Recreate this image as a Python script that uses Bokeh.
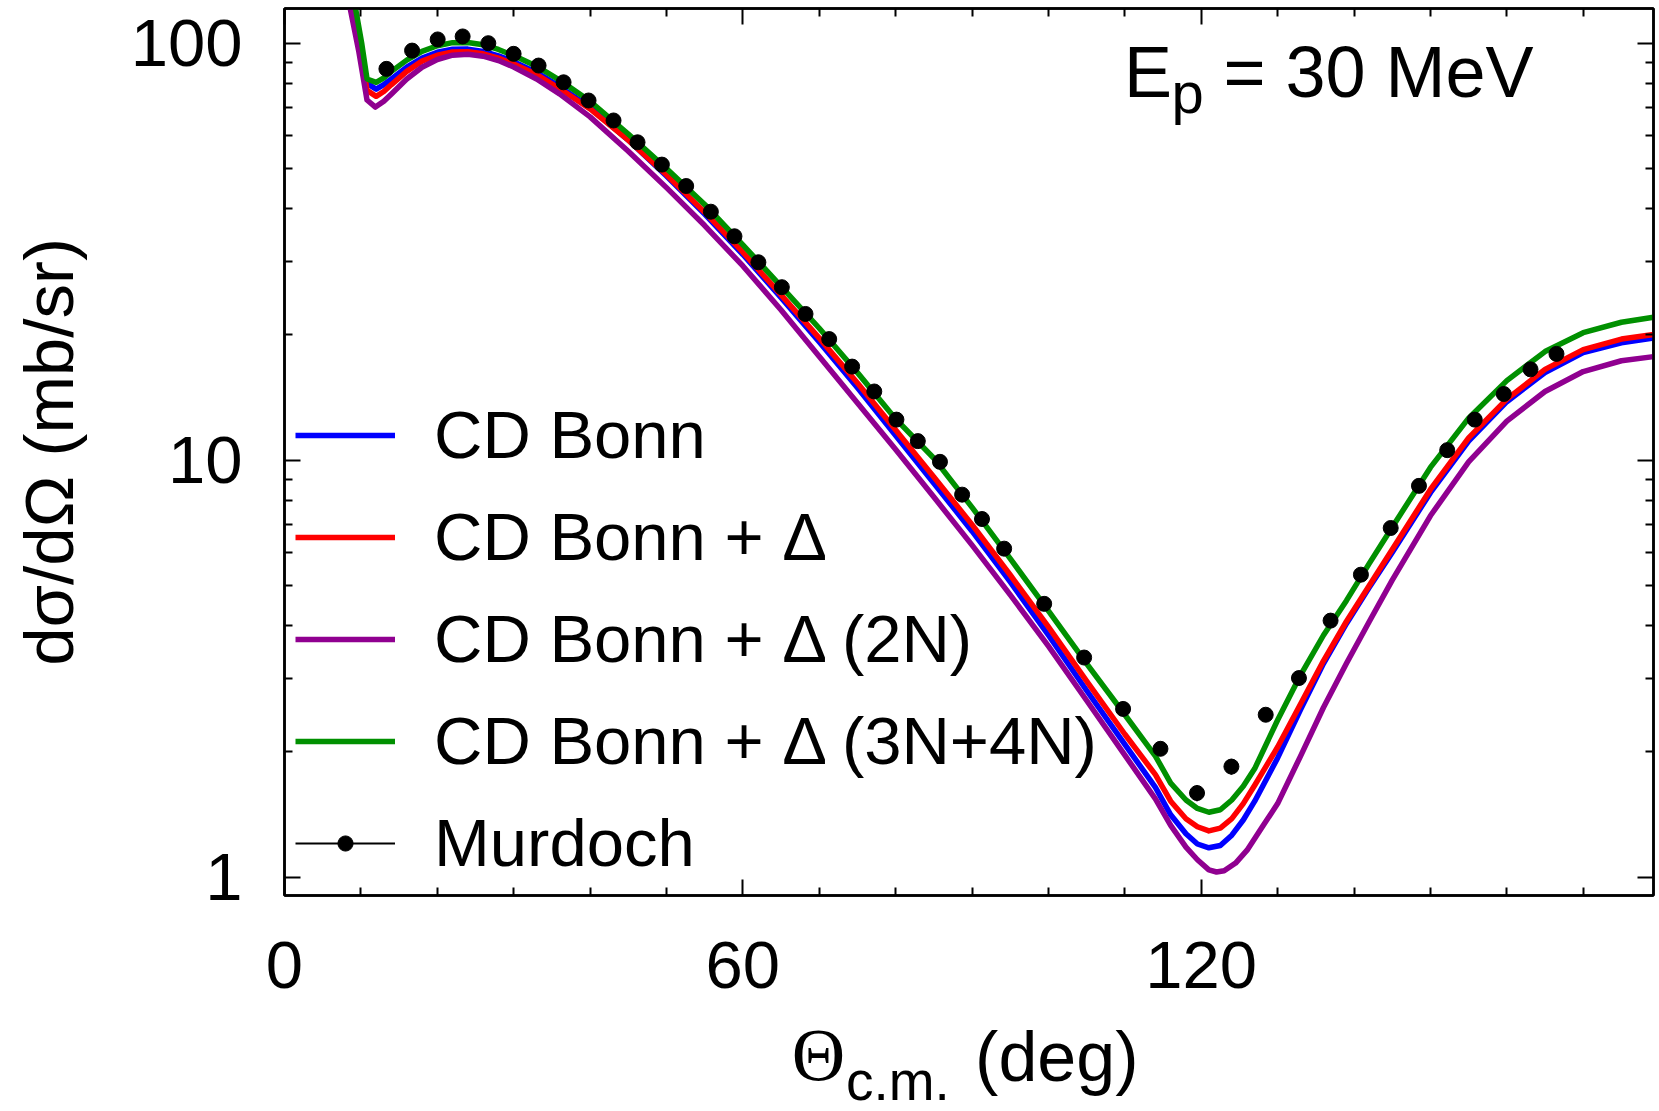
from bokeh.plotting import figure
from bokeh.layouts import column
from bokeh.models import (Range1d, FixedTicker, LinearAxis, LogAxis, Label, Legend,
                          LegendItem, PrintfTickFormatter, CustomLabelingPolicy)
from bokeh.embed import file_html
from bokeh.resources import INLINE

# ---------------- data ----------------
murdoch_theta = [13.34, 16.70, 20.05, 23.32, 26.68, 29.99, 33.26, 36.53, 39.80, 43.07,
                 46.21, 49.40, 52.58, 55.81, 58.90, 62.03, 65.1, 68.2, 71.3, 74.3,
                 77.2, 80.1, 82.9, 85.8, 88.7, 91.3, 94.2, 99.44, 104.67, 109.77,
                 114.66, 119.45, 123.95, 128.44, 132.79, 136.93, 140.9, 144.8, 148.5,
                 152.2, 155.8, 159.6, 163.1, 166.5]
murdoch_xs = [86.7, 95.9, 102.0, 103.7, 99.9, 94.2, 88.3, 80.5, 72.8, 65.2,
              57.8, 51.1, 45.4, 39.4, 34.4, 29.8, 25.97, 22.4, 19.5, 16.75,
              14.6, 12.5, 11.1, 9.90, 8.26, 7.22, 6.13, 4.52, 3.36, 2.53,
              2.03, 1.59, 1.84, 2.45, 3.00, 4.12, 5.31, 6.87, 8.67,
              10.56, 12.5, 14.4, 16.5, 17.97]
murdoch_err = [2.6, 2.9, 3.1, 3.1, 3.0, 2.8, 2.6, 2.4, 2.2, 2.0,
               1.7, 1.5, 1.4, 1.2, 1.0, 0.9, 0.78, 0.67, 0.59, 0.5,
               0.44, 0.38, 0.33, 0.30, 0.25, 0.22, 0.18, 0.14, 0.11, 0.09,
               0.08, 0.07, 0.08, 0.09, 0.1, 0.13, 0.16, 0.21, 0.26,
               0.32, 0.38, 0.43, 0.5, 0.54]

cdb_theta = [8.5, 9.2, 10.0, 10.8, 12.0, 13.0, 14.0, 16.0, 18.0, 20.0, 22.0, 24.0, 26.0,
             28.0, 30.0, 33.0, 36.0, 40.0, 45.0, 50.0, 55.0, 60.0, 65.0, 70.0, 75.0,
             80.0, 85.0, 90.0, 95.0, 100.0, 105.0, 110.0, 114.0, 116.0, 118.0, 119.5,
             121.0, 122.5, 124.0, 125.5, 127.0, 130.0, 133.0, 136.0, 139.0, 142.0,
             145.0, 150.0, 155.0, 160.0, 165.0, 170.0, 175.0, 179.2]
cdb_xs = [152, 121, 97, 80, 77.5, 79.5, 82, 87.5, 92, 95, 96.6, 96.7, 95.5,
          93.2, 90.2, 85, 78.7, 70, 58.5, 48, 38.9, 31.1, 24.5, 19.2, 14.9,
          11.45, 8.8, 6.75, 5.1, 3.8, 2.8, 2.08, 1.64, 1.41, 1.27, 1.2,
          1.175, 1.19, 1.26, 1.37, 1.52, 1.93, 2.52, 3.25, 4.05, 4.95,
          6.0, 8.35, 11.1, 13.8, 16.2, 18.1, 19.1, 19.6]

delta_theta = cdb_theta
delta_xs = [150, 121, 96, 77, 74.5, 76.5, 79.5, 85.5, 90.5, 93.5, 95.2, 95.3, 94.2,
            92, 89, 84, 77.8, 69.5, 58.5, 48.3, 39.3, 31.5, 24.9, 19.6, 15.3,
            11.8, 9.1, 7.0, 5.3, 3.98, 2.95, 2.2, 1.76, 1.52, 1.38, 1.32,
            1.29, 1.31, 1.38, 1.5, 1.66, 2.05, 2.6, 3.3, 4.1, 5.0,
            6.1, 8.5, 11.3, 14.0, 16.5, 18.4, 19.5, 20.0]

d2n_theta = [8.0, 8.6, 9.7, 10.8, 11.9, 13.0, 14.0, 16.0, 18.0, 20.0, 22.0, 24.0, 26.0,
             28.0, 30.0, 33.0, 36.0, 40.0, 45.0, 50.0, 55.0, 60.0, 65.0, 70.0, 75.0,
             80.0, 85.0, 90.0, 95.0, 100.0, 105.0, 110.0, 114.0, 116.0, 118.0, 119.5,
             121.0, 122.0, 123.0, 124.5, 126.0, 128.0, 130.0, 133.0, 136.0, 139.0,
             142.0, 145.0, 150.0, 155.0, 160.0, 165.0, 170.0, 175.0, 179.2]
d2n_xs = [145, 121, 96, 73, 70.2, 72.5, 75.5, 82, 87.5, 91.3, 93.5, 94, 93,
          90.8, 87.6, 82, 75.5, 66.5, 55, 45, 36.5, 29.2, 22.9, 17.7, 13.7,
          10.6, 8.15, 6.25, 4.75, 3.58, 2.65, 1.96, 1.54, 1.33, 1.18, 1.1,
          1.04, 1.028, 1.035, 1.08, 1.16, 1.32, 1.5, 1.95, 2.55, 3.25,
          4.1, 5.15, 7.35, 9.9, 12.4, 14.6, 16.3, 17.3, 17.7]

d34_theta = [8.5, 9.3, 10.1, 10.8, 12.0, 13.0, 14.0, 16.0, 18.0, 20.0, 22.0, 24.0, 26.0,
             28.0, 30.0, 33.0, 36.0, 40.0, 45.0, 50.0, 55.0, 60.0, 65.0, 70.0, 75.0,
             80.0, 85.0, 90.0, 95.0, 100.0, 105.0, 110.0, 114.0, 116.0, 118.0, 119.5,
             121.0, 122.5, 124.0, 125.5, 127.0, 130.0, 133.0, 136.0, 139.0, 142.0,
             145.0, 150.0, 155.0, 160.0, 165.0, 170.0, 175.0, 179.2]
d34_xs = [155, 121, 100, 82, 80.5, 82.5, 85.5, 91, 95.5, 98.5, 100.2, 100.3, 99,
          96.5, 93.3, 88, 81.5, 72.5, 60.5, 50, 41, 32.8, 26.1, 20.7, 16.2,
          12.55, 10.1, 7.7, 5.8, 4.35, 3.25, 2.45, 1.95, 1.68, 1.53, 1.46,
          1.43, 1.45, 1.53, 1.65, 1.82, 2.38, 3.05, 3.8, 4.6, 5.65,
          6.9, 9.6, 12.6, 15.5, 18.2, 20.2, 21.4, 22.0]

series_names = ["CD Bonn", "CD Bonn + \u0394", "CD Bonn + \u0394 (2N)",
                "CD Bonn + \u0394 (3N+4N)"]
series_colors = ["#0000FF", "#FF0000", "#900090", "#009000"]
series_theta = [cdb_theta, delta_theta, d2n_theta, d34_theta]
series_xs = [cdb_xs, delta_xs, d2n_xs, d34_xs]

x_major = [0, 60, 120]
x_minor = [10, 20, 30, 40, 50, 70, 80, 90, 100, 110, 130, 140, 150, 160, 170]
y_major = [1, 10, 100]
y_minor = [2, 3, 4, 5, 6, 7, 8, 9, 20, 30, 40, 50, 60, 70, 80, 90]

FONT = "Liberation Sans"

p = figure(width=1659, height=1010, output_backend="svg", toolbar_location=None,
           x_range=Range1d(0, 179.2), y_range=Range1d(0.903, 121.0),
           y_axis_type="log",
           min_border_left=284, min_border_right=6, min_border_top=8,
           min_border_bottom=115)
p.background_fill_color = "white"
p.border_fill_color = "white"
p.outline_line_color = "black"
p.outline_line_width = 2.5
p.xgrid.visible = False
p.ygrid.visible = False

no_labels = CustomLabelingPolicy(code="return new Set()")


def style_axis(ax, show_labels, standoff=0):
    ax.axis_line_width = 2.5
    ax.axis_line_color = "black"
    ax.major_tick_in = 16
    ax.major_tick_out = 0
    ax.minor_tick_in = 8
    ax.minor_tick_out = 0
    ax.major_tick_line_width = 2
    ax.minor_tick_line_width = 2
    ax.major_tick_line_color = "black"
    ax.minor_tick_line_color = "black"
    if show_labels:
        ax.major_label_text_font = FONT
        ax.major_label_text_font_size = "67px"
        ax.major_label_text_color = "black"
        ax.major_label_standoff = standoff
    else:
        ax.axis_label = None
        ax.major_label_text_font_size = "1px"
        ax.major_label_standoff = 0
        ax.major_label_policy = no_labels


xb = p.xaxis[0]
xb.ticker = FixedTicker(ticks=x_major, minor_ticks=x_minor)
style_axis(xb, True, 46)
xb.axis_label = None

yl = p.yaxis[0]
yl.ticker = FixedTicker(ticks=y_major, minor_ticks=y_minor)
yl.formatter = PrintfTickFormatter(format="%d")
style_axis(yl, True, 42)
yl.axis_label = "d\u03c3/d\u03a9 (mb/sr)"
yl.axis_label_text_font = FONT
yl.axis_label_text_font_size = "69px"
yl.axis_label_text_font_style = "normal"
yl.axis_label_text_color = "black"
yl.axis_label_standoff = 40

xt = LinearAxis(ticker=FixedTicker(ticks=x_major, minor_ticks=x_minor))
style_axis(xt, False)
p.add_layout(xt, "above")
yr = LogAxis(ticker=FixedTicker(ticks=y_major, minor_ticks=y_minor))
style_axis(yr, False)
p.add_layout(yr, "right")

items = []
for name, col, th, xs in zip(series_names, series_colors, series_theta, series_xs):
    r = p.line(th, xs, line_color=col, line_width=5.5, line_join="round")
    items.append(LegendItem(label=name, renderers=[r]))

err_lo = [v - e for v, e in zip(murdoch_xs, murdoch_err)]
err_hi = [v + e for v, e in zip(murdoch_xs, murdoch_err)]
bars = p.segment(x0=murdoch_theta, y0=err_lo, x1=murdoch_theta, y1=err_hi,
                 line_color="black", line_width=2)
pts = p.scatter(murdoch_theta, murdoch_xs, size=15, marker="circle",
                fill_color="black", line_color="black")
items.append(LegendItem(label="Murdoch", renderers=[bars, pts]))

legend = Legend(items=items, location=(11, 14), padding=0, margin=0, spacing=25,
                glyph_width=100, glyph_height=38, label_height=38, label_standoff=39,
                label_text_font=FONT, label_text_font_size="67px",
                label_text_color="black",
                border_line_color=None, background_fill_alpha=0)
p.add_layout(legend)

# energy annotation (text centred vertically on the given y)
p.add_layout(Label(x=109.9, y=85.2, text="E", text_align="left",
                   text_baseline="middle", text_font=FONT,
                   text_font_size="72px", text_color="black"))
p.add_layout(Label(x=116.1, y=76.3, text="p", text_align="left",
                   text_baseline="middle", text_font=FONT,
                   text_font_size="58px", text_color="black"))
p.add_layout(Label(x=122.9, y=85.2, text="= 30 MeV", text_align="left",
                   text_baseline="middle", text_font=FONT,
                   text_font_size="72px", text_color="black"))

# x-axis title strip (shares the x range of the main plot)
t = figure(width=1659, height=101, output_backend="svg", toolbar_location=None,
           x_range=p.x_range, y_range=Range1d(0, 101),
           x_axis_location=None, y_axis_location=None,
           min_border_left=284, min_border_right=6, min_border_top=0,
           min_border_bottom=0)
t.outline_line_color = None
t.background_fill_color = "white"
t.border_fill_color = "white"
t.xgrid.visible = False
t.ygrid.visible = False
t.add_layout(Label(x=66.4, y=57, text="\u0398", text_align="left",
                   text_baseline="middle", text_font="Liberation Serif",
                   text_font_size="74px", text_color="black"))
t.add_layout(Label(x=73.5, y=31, text="c.m.", text_align="left",
                   text_baseline="middle", text_font=FONT,
                   text_font_size="55px", text_color="black"))
t.add_layout(Label(x=90.4, y=55, text="(deg)", text_align="left",
                   text_baseline="middle", text_font=FONT,
                   text_font_size="70px", text_color="black"))

open("out.html", "w").write(file_html(column(p, t), INLINE))
